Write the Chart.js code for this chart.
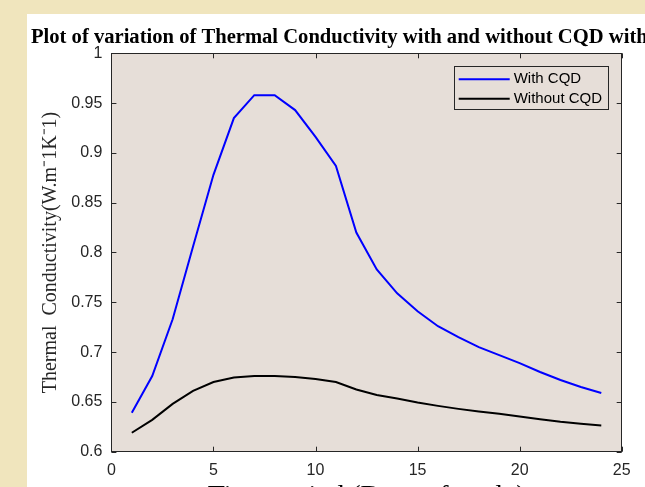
<!DOCTYPE html>
<html>
<head>
<meta charset="utf-8">
<script src="https://cdn.jsdelivr.net/npm/chart.js@4/dist/chart.umd.min.js"></script>
<style>
  html, body { margin: 0; padding: 0; overflow: hidden; background: #f0e5bd; width: 645px; height: 487px; }
  #card { position: absolute; left: 27px; top: 14px; width: 618px; height: 473px; background: #ffffff; overflow: hidden; }
  canvas { display: block; }
</style>
</head>
<body>
<div id="card"><canvas id="tcChart" width="618" height="500"></canvas></div>
<script>
const days = [1, 2, 3, 4, 5, 6, 7, 8, 9, 10, 11, 12, 13, 14, 15, 16, 17, 18, 19, 20, 21, 22, 23, 24];
const withCQD = [0.639, 0.676, 0.733, 0.806, 0.878, 0.935, 0.958, 0.958, 0.943, 0.916, 0.887, 0.820,
                 0.783, 0.759, 0.741, 0.726, 0.715, 0.705, 0.697, 0.689, 0.680, 0.672, 0.665, 0.659];
const withoutCQD = [0.619, 0.632, 0.648, 0.661, 0.670, 0.6745, 0.676, 0.676, 0.675, 0.673, 0.670, 0.6625,
                    0.657, 0.6534, 0.6494, 0.646, 0.643, 0.6404, 0.638, 0.6353, 0.6326, 0.630, 0.628, 0.6263];
const xTicks = [0, 5, 10, 15, 20, 25];
const yTicks = [0.6, 0.65, 0.7, 0.75, 0.8, 0.85, 0.9, 0.95, 1];
const yTickLabels = ['0.6', '0.65', '0.7', '0.75', '0.8', '0.85', '0.9', '0.95', '1'];

const titleText = 'Plot of variation of Thermal Conductivity with and without CQD with time';
const axisColor = '#262626';
const plotBg = '#e6ded8';

// matlab style frame: plot background, box, inward ticks, title, legend
const matlabFrame = {
  id: 'matlabFrame',
  beforeDraw(chart) {
    const {ctx, chartArea: a} = chart;
    ctx.save();
    ctx.fillStyle = plotBg;
    ctx.fillRect(a.left, a.top, a.right - a.left, a.bottom - a.top);
    ctx.restore();
  },
  afterDraw(chart) {
    const {ctx, chartArea: a, scales} = chart;
    ctx.save();
    ctx.strokeStyle = axisColor;
    ctx.lineWidth = 1;
    ctx.beginPath();
    scales.x.ticks.forEach(t => {
      const px = Math.round(scales.x.getPixelForValue(t.value)) + 0.5;
      ctx.moveTo(px, a.bottom); ctx.lineTo(px, a.bottom - 5);
      ctx.moveTo(px, a.top); ctx.lineTo(px, a.top + 5);
    });
    scales.y.ticks.forEach(t => {
      const py = Math.round(scales.y.getPixelForValue(t.value)) + 0.5;
      ctx.moveTo(a.left, py); ctx.lineTo(a.left + 5, py);
      ctx.moveTo(a.right, py); ctx.lineTo(a.right - 5, py);
    });
    ctx.stroke();
    ctx.strokeRect(Math.round(a.left) + 0.5, Math.round(a.top) + 0.5,
                   Math.round(a.right - a.left), Math.round(a.bottom - a.top));

    // title (runs off the right edge like the original)
    ctx.fillStyle = '#000000';
    ctx.font = 'bold 20.6px "Liberation Serif", "Times New Roman", serif';
    ctx.textAlign = 'left';
    ctx.textBaseline = 'alphabetic';
    ctx.fillText(titleText, 4, 29);

    // legend box in the top right corner
    const bx = a.right - 168, by = a.top + 13, bw = 154, bh = 43;
    ctx.fillStyle = plotBg;
    ctx.fillRect(bx, by, bw, bh);
    ctx.strokeStyle = axisColor;
    ctx.strokeRect(Math.round(bx) + 0.5, Math.round(by) + 0.5, bw, bh);
    ctx.font = '15px "Liberation Sans", Arial, sans-serif';
    ctx.textBaseline = 'middle';
    chart.data.datasets.forEach((ds, i) => {
      const ry = by + 13 + i * 19.5;
      ctx.strokeStyle = ds.borderColor;
      ctx.lineWidth = 2;
      ctx.beginPath();
      ctx.moveTo(bx + 5, ry); ctx.lineTo(bx + 56, ry);
      ctx.stroke();
      ctx.fillStyle = '#000000';
      ctx.fillText(ds.label, bx + 60, ry);
    });
    ctx.restore();
  }
};

new Chart(document.getElementById('tcChart').getContext('2d'), {
  type: 'line',
  data: {
    datasets: [{
      label: 'With CQD',
      data: days.map((d, i) => ({x: d, y: withCQD[i]})),
      borderColor: '#0000ff',
      borderWidth: 2,
      pointRadius: 0,
      tension: 0,
      fill: false
    }, {
      label: 'Without CQD',
      data: days.map((d, i) => ({x: d, y: withoutCQD[i]})),
      borderColor: '#000000',
      borderWidth: 2,
      pointRadius: 0,
      tension: 0,
      fill: false
    }]
  },
  options: {
    responsive: false,
    animation: false,
    layout: { padding: { left: 4, top: 39.3, right: 23.3, bottom: 0 } },
    plugins: {
      legend: { display: false },
      title: { display: false },
      tooltip: { enabled: false }
    },
    scales: {
      x: {
        type: 'linear',
        min: 0, max: 25,
        afterBuildTicks: s => { s.ticks = xTicks.map(v => ({value: v})); },
        afterFit: s => { s.height = 62.3; },
        grid: { display: false, drawTicks: false },
        border: { display: false },
        ticks: {
          padding: 9,
          color: axisColor,
          font: { family: '"Liberation Sans", Arial, sans-serif', size: 16 },
          maxRotation: 0
        },
        title: {
          display: true,
          text: 'Time period (Days of study)',
          color: '#000000',
          font: { family: '"Liberation Serif", "Times New Roman", serif', size: 28 },
          padding: { top: 0, bottom: 1 }
        }
      },
      y: {
        min: 0.6, max: 1,
        afterBuildTicks: s => { s.ticks = yTicks.map(v => ({value: v})); },
        afterFit: s => { s.width = 80.4; },
        grid: { display: false, drawTicks: false },
        border: { display: false },
        ticks: {
          padding: 9,
          color: axisColor,
          font: { family: '"Liberation Sans", Arial, sans-serif', size: 16 },
          callback: (v, i) => yTickLabels[i]
        },
        title: {
          display: true,
          text: 'Thermal  Conductivity(W.m\u207B1K\u207B1)',
          color: axisColor,
          font: { family: '"Liberation Serif", "Times New Roman", serif', size: 20 },
          padding: { top: 8, bottom: 0 }
        }
      }
    }
  },
  plugins: [matlabFrame]
});
</script>
</body>
</html>
